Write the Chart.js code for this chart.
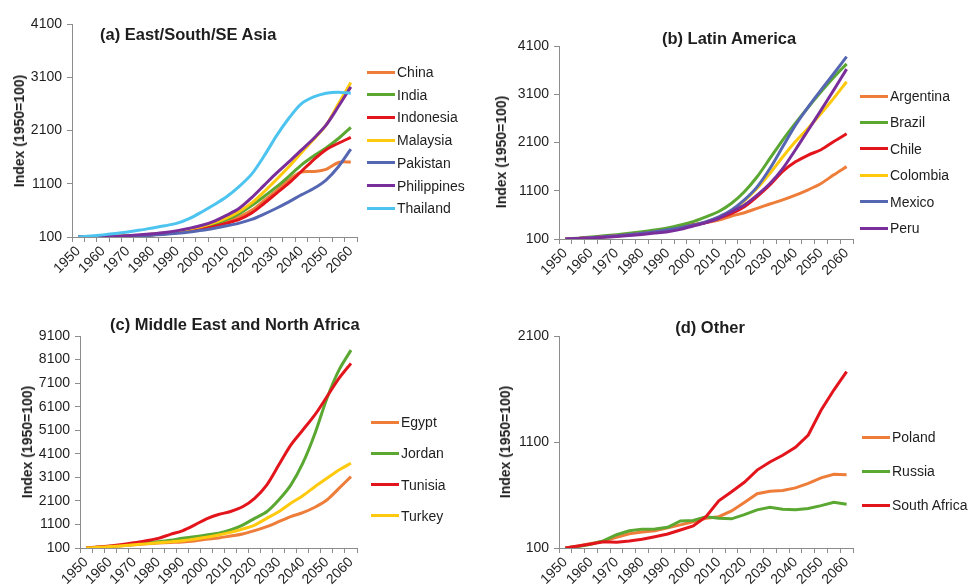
<!DOCTYPE html>
<html>
<head>
<meta charset="utf-8">
<script src="https://cdn.jsdelivr.net/npm/chart.js@4.4.1/dist/chart.umd.min.js"></script>
<style>
  body { margin: 0; background: #fff; }
  #page { position: relative; width: 969px; height: 585px; overflow: hidden;
          font-family: 'Liberation Sans', Arial, sans-serif; color: #1e1e1e; background: #fff; }
  #page canvas { position: absolute; }
  .ptitle { position: absolute; font-weight: bold; font-size: 16.5px; line-height: 1; white-space: nowrap; }
  .ytitle { position: absolute; font-weight: bold; font-size: 14px; line-height: 1; white-space: nowrap;
            transform: translate(-50%, -50%) rotate(-90deg); }
  .leg { position: absolute; height: 16px; display: flex; align-items: center; font-size: 14px; white-space: nowrap; }
  .leg .swatch { display: inline-block; width: 28px; height: 3px; margin-right: 2px; }
</style>
</head>
<body>
<div id="page"></div>
<script>
// Years on the category axis (5-year steps) and the years that carry a label
const years = [1950,1955,1960,1965,1970,1975,1980,1985,1990,1995,2000,2005,2010,
               2015,2020,2025,2030,2035,2040,2045,2050,2055,2060];
const labeledYears = [1950,1960,1970,1980,1990,2000,2010,2020,2030,2040,2050,2060];

// (a) East/South/SE Asia
const asiaNames = ['China','India','Indonesia','Malaysia','Pakistan','Philippines','Thailand'];
const china       = [100,102,105,110,117,128,145,165,190,225,270,330,400,480,600,780,970,1170,1320,1330,1370,1500,1510];
const india       = [100,102,105,110,118,128,142,160,185,220,270,340,430,540,690,860,1040,1240,1450,1620,1770,1950,2160];
const indonesia   = [100,102,105,110,117,128,142,160,185,215,255,300,360,430,550,730,920,1110,1330,1550,1740,1860,1970];
const malaysia    = [100,102,106,112,120,135,155,175,205,250,300,370,460,580,740,950,1180,1420,1680,1930,2200,2600,3000];
const pakistan    = [100,101,103,107,113,122,135,150,170,195,225,265,310,360,430,530,640,760,890,1010,1170,1420,1750];
const philippines = [100,103,108,115,125,140,160,185,220,265,320,400,510,640,840,1070,1300,1510,1730,1950,2200,2550,2920];
const thailand    = [100,118,140,165,195,230,270,310,360,450,575,710,860,1050,1280,1620,2000,2330,2600,2730,2800,2820,2800];
const asiaYTicks  = [100,1100,2100,3100,4100];

// (b) Latin America
const latamNames = ['Argentina','Brazil','Chile','Colombia','Mexico','Peru'];
const argentina = [100,112,128,145,165,190,215,245,280,330,400,440,495,575,645,735,825,910,1010,1120,1250,1430,1600];
const brazil    = [100,118,140,165,190,220,250,285,330,390,460,560,670,840,1080,1390,1770,2150,2500,2830,3150,3450,3730];
const chile     = [100,112,128,145,165,190,215,245,280,330,390,440,530,630,770,980,1220,1500,1700,1840,1950,2120,2280];
const colombia  = [100,110,125,142,162,185,210,240,275,320,380,450,550,690,890,1150,1460,1800,2120,2400,2700,3020,3360];
const mexico    = [100,112,128,146,167,192,220,252,290,335,390,460,560,700,910,1180,1560,2010,2460,2840,3190,3530,3880];
const peru      = [100,108,120,135,152,172,195,222,252,300,370,440,530,665,805,1010,1250,1560,1950,2360,2770,3190,3620];
const latamYTicks = [100,1100,2100,3100,4100];

// (c) Middle East and North Africa
const menaNames = ['Egypt','Jordan','Tunisia','Turkey'];
const egypt   = [100,130,165,200,240,280,310,335,355,400,470,525,610,695,835,1005,1215,1430,1600,1830,2140,2630,3130];
const jordan  = [100,135,170,210,260,320,370,430,510,580,650,725,865,1075,1360,1640,2140,2770,3700,4950,6450,7650,8500];
const tunisia = [100,140,190,250,320,410,510,680,830,1070,1340,1520,1650,1850,2210,2770,3620,4470,5110,5750,6520,7300,7940];
const turkey  = [100,130,160,195,235,275,320,360,410,480,555,650,765,905,1075,1360,1640,2000,2320,2700,3060,3410,3700];
const menaYTicks = [100,1100,2100,3100,4100,5100,6100,7100,8100,9100];

// (d) Other
const otherNames = ['Poland','Russia','South Africa'];
const poland      = [100,118,142,165,200,235,250,262,290,318,348,380,395,450,530,612,635,643,667,710,762,795,790];
const russia      = [100,115,135,170,225,262,278,280,295,355,360,395,380,375,415,460,485,465,462,472,500,532,513];
const southAfrica = [100,119,138,158,155,166,183,207,232,270,308,395,545,630,720,835,912,975,1050,1166,1400,1590,1763];
const otherYTicks = [100,1100,2100];

// Series colours
const ORANGE = '#EE7D3A', GREEN = '#5AA732', RED = '#E3151C', YELLOW = '#FFC90E',
      BLUE = '#5567B3', PURPLE = '#7A2E9C', SKY = '#4CC4EF';

const FONT = "'Liberation Sans', Arial, sans-serif";
const TEXT = '#1e1e1e';
const AXIS = '#8c8c8c';
const page = document.getElementById('page');

function addText(cls, text, style) {
  const d = document.createElement('div');
  d.className = cls;
  d.textContent = text;
  Object.assign(d.style, style);
  page.appendChild(d);
  return d;
}

function panel(p) {
  const cv = document.createElement('canvas');
  cv.width = p.w; cv.height = p.h;
  cv.style.left = p.x + 'px'; cv.style.top = p.y + 'px';
  page.appendChild(cv);

  const n = p.series.length;
  const datasets = p.series.map((s, i) => ({
    label: p.names[i],
    data: s,
    borderColor: p.colors[i],
    backgroundColor: p.colors[i],
    borderWidth: 3,
    pointRadius: 0,
    fill: false,
    tension: p.tension,
    order: n - i
  }));

  new Chart(cv, {
    type: 'line',
    data: { labels: years.map(String), datasets },
    options: {
      responsive: false,
      animation: false,
      devicePixelRatio: 1,
      layout: { padding: { left: 0, top: p.padTop, right: p.padRight, bottom: 0 } },
      plugins: { legend: { display: false }, tooltip: { enabled: false }, title: { display: false } },
      scales: {
        x: {
          type: 'category',
          offset: true,
          grid: { offset: true, drawOnChartArea: false, tickLength: 5, color: AXIS },
          border: { color: AXIS, width: 1 },
          ticks: {
            autoSkip: false, minRotation: 45, maxRotation: 45, padding: 1,
            color: TEXT, font: { family: FONT, size: 14 },
            callback: (v, i) => labeledYears.includes(years[i]) ? String(years[i]) : ''
          },
          afterFit: s => { s.height = p.xH; }
        },
        y: {
          min: p.yTicks[0], max: p.yTicks[p.yTicks.length - 1],
          grid: { drawOnChartArea: false, tickLength: 5, color: AXIS },
          border: { color: AXIS, width: 1 },
          ticks: { padding: 5, color: TEXT, font: { family: FONT, size: 14 },
                   callback: v => String(v) },
          afterBuildTicks: s => { s.ticks = p.yTicks.map(v => ({ value: v })); },
          afterFit: s => { s.width = p.yW; }
        }
      }
    }
  });

  // panel heading
  addText('ptitle', p.title, p.titleStyle);
  // vertical axis title
  addText('ytitle', 'Index (1950=100)', { left: p.yTitle[0] + 'px', top: p.yTitle[1] + 'px' });
  // legend
  p.names.forEach((name, i) => {
    const d = document.createElement('div');
    d.className = 'leg';
    d.style.left = p.leg.x + 'px';
    d.style.top = (p.leg.y + i * p.leg.step - 8) + 'px';
    const sw = document.createElement('span');
    sw.className = 'swatch';
    sw.style.background = p.colors[i];
    const t = document.createElement('span');
    t.textContent = name;
    d.appendChild(sw); d.appendChild(t);
    page.appendChild(d);
  });
}

panel({
  x: 0, y: 0, w: 480, h: 290, yW: 72, xH: 53, padTop: 24, padRight: 123, tension: 0.3,
  names: asiaNames,
  series: [china, india, indonesia, malaysia, pakistan, philippines, thailand],
  colors: [ORANGE, GREEN, RED, YELLOW, BLUE, PURPLE, SKY],
  yTicks: asiaYTicks,
  title: '(a) East/South/SE Asia', titleStyle: { left: '100px', top: '26px' },
  yTitle: [19, 131],
  leg: { x: 367, y: 72, step: 22.7 }
});

panel({
  x: 480, y: 0, w: 489, h: 290, yW: 79, xH: 51, padTop: 46, padRight: 116, tension: 0.3,
  names: latamNames,
  series: [argentina, brazil, chile, colombia, mexico, peru],
  colors: [ORANGE, GREEN, RED, YELLOW, BLUE, PURPLE],
  yTicks: latamYTicks,
  title: '(b) Latin America', titleStyle: { left: '729px', top: '30px', transform: 'translateX(-50%)' },
  yTitle: [501, 152],
  leg: { x: 860, y: 96, step: 26.4 }
});

panel({
  x: 0, y: 300, w: 480, h: 285, yW: 80, xH: 37, padTop: 36, padRight: 123, tension: 0.3,
  names: menaNames,
  series: [egypt, jordan, tunisia, turkey],
  colors: [ORANGE, GREEN, RED, YELLOW],
  yTicks: menaYTicks,
  title: '(c) Middle East and North Africa', titleStyle: { left: '110px', top: '316px' },
  yTitle: [27, 442],
  leg: { x: 371, y: 422, step: 31.3 }
});

panel({
  x: 480, y: 300, w: 489, h: 285, yW: 79, xH: 37, padTop: 36, padRight: 116, tension: 0,
  names: otherNames,
  series: [poland, russia, southAfrica],
  colors: [ORANGE, GREEN, RED],
  yTicks: otherYTicks,
  title: '(d) Other', titleStyle: { left: '710px', top: '319px', transform: 'translateX(-50%)' },
  yTitle: [505, 442],
  leg: { x: 862, y: 437, step: 34 }
});
</script>
</body>
</html>
